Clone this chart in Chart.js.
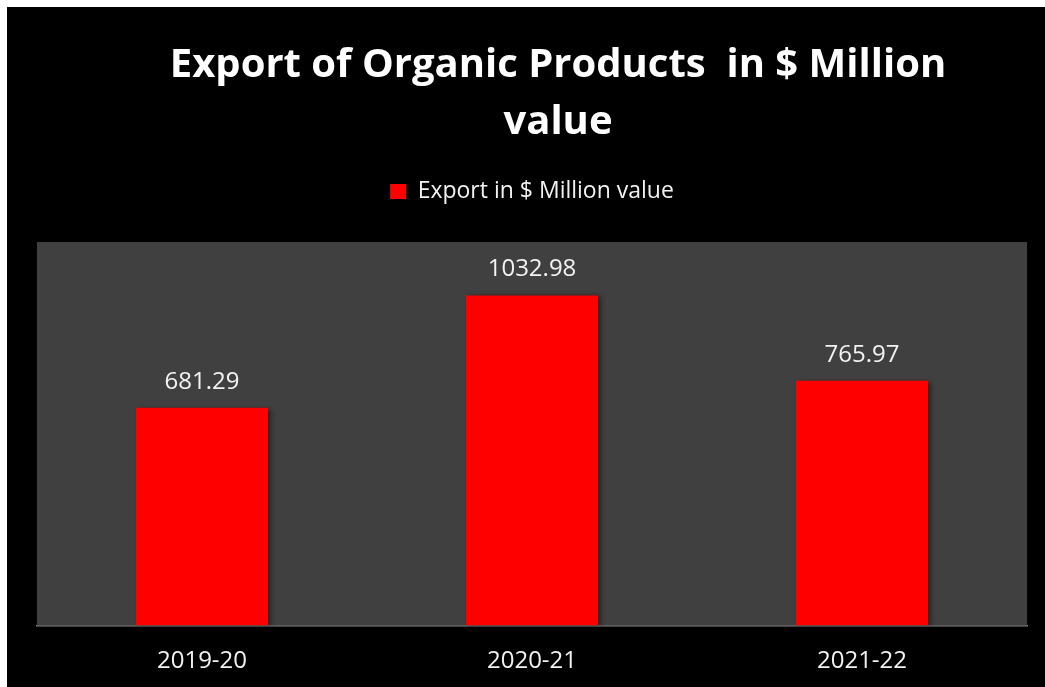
<!DOCTYPE html>
<html>
<head>
<meta charset="utf-8">
<script src="https://cdn.jsdelivr.net/npm/chart.js@4/dist/chart.umd.min.js"></script>
<style>
  html, body { margin: 0; padding: 0; background: #000000; overflow: hidden; width: 100%; height: 100%; }
  #topEdge { position: absolute; left: 0; top: 0; width: 100%; height: 7px; background: #ffffff; }
  #leftEdge { position: absolute; left: 0; top: 0; width: 7px; height: 100%; background: #ffffff; }
  #wrap { position: absolute; left: 7px; top: 7px; width: 1038px; height: 680px; background: #000000; }
</style>
</head>
<body>
<div id="topEdge"></div>
<div id="leftEdge"></div>
<div id="wrap"><canvas id="exportChart"></canvas></div>
<script>
// chart data
var years = ['2019-20', '2020-21', '2021-22'];
var exportValues = [681.29, 1032.98, 765.97];
var seriesName = 'Export in $ Million value';
var titleLines = ['Export of Organic Products  in $ Million', 'value'];

var FONT = '"Open Sans", "DejaVu Sans", sans-serif';

// grey plot background + bar shadows
var plotBg = {
    id: 'plotBg',
    beforeDatasetsDraw: function (chart) {
        var a = chart.chartArea, ctx = chart.ctx;
        ctx.save();
        ctx.fillStyle = '#404040';
        ctx.fillRect(a.left, a.top, a.right - a.left, a.bottom - a.top);
        ctx.restore();
        ctx.save();
        ctx.shadowColor = 'rgba(0,0,0,0.45)';
        ctx.shadowOffsetX = 3;
        ctx.shadowOffsetY = 1;
        ctx.shadowBlur = 5;
    },
    afterDatasetsDraw: function (chart) {
        chart.ctx.restore();
    }
};

// value labels above the bars
var valueLabels = {
    id: 'valueLabels',
    afterDatasetsDraw: function (chart) {
        var ctx = chart.ctx;
        var meta = chart.getDatasetMeta(0);
        ctx.save();
        ctx.fillStyle = '#f2f2f2';
        ctx.font = '24px ' + FONT;
        ctx.textAlign = 'center';
        ctx.textBaseline = 'alphabetic';
        meta.data.forEach(function (bar, i) {
            ctx.fillText(exportValues[i].toFixed(2), bar.x, bar.y - 19);
        });
        ctx.restore();
    }
};

// big bold title, drawn slightly right of centre like the original
var bigTitle = {
    id: 'bigTitle',
    afterDraw: function (chart) {
        var ctx = chart.ctx;
        ctx.save();
        ctx.fillStyle = '#ffffff';
        ctx.font = 'bold 40px ' + FONT;
        ctx.textAlign = 'center';
        ctx.textBaseline = 'alphabetic';
        ctx.fillText(titleLines[0], 551, 70);
        ctx.fillText(titleLines[1], 551, 127);
        ctx.restore();
    }
};

var ctx = document.getElementById('exportChart').getContext('2d');
var myChart = new Chart(ctx, {
    type: 'bar',
    data: {
        labels: years,
        datasets: [{
            label: seriesName,
            data: exportValues,
            backgroundColor: '#ff0000',
            borderWidth: 0,
            categoryPercentage: 1.0,
            barPercentage: 0.4
        }]
    },
    options: {
        responsive: true,
        maintainAspectRatio: false,
        animation: false,
        layout: {
            padding: { left: 30, right: 18, top: 163, bottom: 0 }
        },
        scales: {
            x: {
                grid: { display: false, drawTicks: false },
                border: { display: true, color: '#808080', width: 1.5 },
                ticks: {
                    color: '#f2f2f2',
                    padding: 21,
                    font: { family: FONT, size: 24 }
                },
                afterFit: function (scale) { scale.height = 61.5; }
            },
            // empty spacer axis between legend and plot area
            x2: {
                type: 'category',
                position: 'top',
                labels: years,
                grid: { display: false, drawTicks: false },
                border: { display: false },
                ticks: { display: false },
                afterFit: function (scale) { scale.height = 29; }
            },
            y: {
                display: false,
                min: 0,
                max: 1200
            }
        },
        plugins: {
            title: { display: false },
            tooltip: { enabled: false },
            legend: {
                display: true,
                position: 'top',
                labels: {
                    color: '#f2f2f2',
                    boxWidth: 16,
                    boxHeight: 15,
                    padding: 10,
                    font: { family: FONT, size: 23 }
                }
            }
        }
    },
    plugins: [plotBg, valueLabels, bigTitle]
});
</script>
</body>
</html>
